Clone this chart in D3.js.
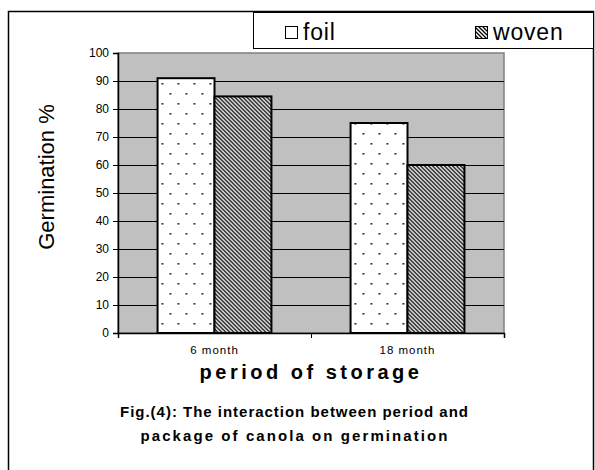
<!DOCTYPE html>
<html>
<head>
<meta charset="utf-8">
<script src="https://cdn.jsdelivr.net/npm/d3@7"></script>
<style>
  html, body { margin: 0; padding: 0; background: #fff; }
  svg { display: block; font-family: "Liberation Sans", Arial, sans-serif; }
</style>
</head>
<body>
<div id="chart"></div>
<script>
// Germination % by storage period and package type

var categories = ['6 month', '18 month'];
var seriesNames = ['foil', 'woven'];
var foilValues = [91, 75];
var wovenValues = [84.5, 60];
var yTicks = [0, 10, 20, 30, 40, 50, 60, 70, 80, 90, 100];

var width = 595, height = 470;
var plot = {left: 118, right: 504, top: 53, bottom: 333};

var svg = d3.select('#chart').append('svg')
    .attr('width', width)
    .attr('height', height);

// Fill patterns
var defs = svg.append('defs');

var dots = defs.append('pattern')
    .attr('id', 'dots')
    .attr('patternUnits', 'userSpaceOnUse')
    .attr('width', 16).attr('height', 20);
dots.append('rect').attr('width', 16).attr('height', 20).attr('fill', '#fff');
dots.append('rect').attr('x', 4).attr('y', 3).attr('width', 1.6).attr('height', 1.6).attr('fill', '#000');
dots.append('rect').attr('x', 12).attr('y', 13).attr('width', 1.6).attr('height', 1.6).attr('fill', '#000');

var hatch = defs.append('pattern')
    .attr('id', 'hatch')
    .attr('patternUnits', 'userSpaceOnUse')
    .attr('width', 4).attr('height', 4);
hatch.append('rect').attr('width', 4).attr('height', 4).attr('fill', '#fff');
hatch.append('path')
    .attr('d', 'M-1,-1 L5,5 M-1,3 L1,5 M3,-1 L5,1')
    .attr('stroke', '#000')
    .attr('stroke-width', 1.3);

var fills = {foil: 'url(#dots)', woven: 'url(#hatch)'};

// Outer frame (bottom edge falls outside the picture)
svg.append('path')
    .attr('d', 'M8.5,480 L8.5,11.5 L593.5,11.5 L593.5,480')
    .attr('fill', 'none')
    .attr('stroke', '#000')
    .attr('stroke-width', 1.5);

// Scales
var x0 = d3.scaleBand()
    .domain(categories)
    .range([plot.left, plot.right])
    .paddingInner(0)
    .paddingOuter(0);

var x1 = d3.scaleBand()
    .domain(seriesNames)
    .range([0, x0.bandwidth() * 0.59]);

var y = d3.scaleLinear()
    .domain([0, 100])
    .range([plot.bottom, plot.top]);

// Plot background
svg.append('rect')
    .attr('x', plot.left)
    .attr('y', plot.top)
    .attr('width', plot.right - plot.left)
    .attr('height', plot.bottom - plot.top)
    .attr('fill', '#c0c0c0')
    .attr('stroke', '#808080')
    .attr('stroke-width', 1.5);

// Gridlines
svg.append('g')
    .selectAll('line')
    .data(yTicks.filter(function(d) { return d > 0 && d < 100; }))
    .enter().append('line')
    .attr('x1', plot.left)
    .attr('x2', plot.right)
    .attr('y1', function(d) { return Math.round(y(d)) + 0.5; })
    .attr('y2', function(d) { return Math.round(y(d)) + 0.5; })
    .attr('stroke', '#000')
    .attr('stroke-width', 1);

// Bars
var groupOffset = (x0.bandwidth() - x1.range()[1]) / 2;
var rows = categories.map(function(c, i) {
    return {category: c, values: [
        {name: 'foil', value: foilValues[i]},
        {name: 'woven', value: wovenValues[i]}
    ]};
});

svg.append('g')
    .selectAll('g')
    .data(rows)
    .enter().append('g')
    .attr('transform', function(d) { return 'translate(' + (x0(d.category) + groupOffset) + ',0)'; })
    .selectAll('rect')
    .data(function(d) { return d.values; })
    .enter().append('rect')
    .attr('x', function(d) { return x1(d.name); })
    .attr('y', function(d) { return y(d.value); })
    .attr('width', x1.bandwidth())
    .attr('height', function(d) { return y(0) - y(d.value); })
    .attr('fill', function(d) { return fills[d.name]; })
    .attr('stroke', '#000')
    .attr('stroke-width', 2);

// Y axis
var yAxis = svg.append('g')
    .attr('transform', 'translate(' + plot.left + ',0)')
    .call(d3.axisLeft(y).tickValues(yTicks).tickSize(5).tickPadding(4));
yAxis.select('.domain').attr('stroke', '#000').attr('stroke-width', 1.5);
yAxis.selectAll('text').attr('font-size', 12).attr('fill', '#000')
    .attr('font-family', '"Liberation Sans", Arial, sans-serif');

// X axis (ticks at category boundaries)
var xAxis = svg.append('g')
    .attr('transform', 'translate(0,' + plot.bottom + ')')
    .call(d3.axisBottom(d3.scaleLinear().domain([0, 2]).range([plot.left, plot.right]))
        .tickValues([0, 1, 2]).tickSize(5).tickFormat(''));
xAxis.select('.domain').attr('stroke', '#000').attr('stroke-width', 1.5);

// Category labels
svg.append('g')
    .selectAll('text')
    .data(categories)
    .enter().append('text')
    .attr('x', function(d) { return x0(d) + x0.bandwidth() / 2; })
    .attr('y', 354)
    .attr('text-anchor', 'middle')
    .attr('font-size', 11.5)
    .attr('letter-spacing', 1)
    .text(function(d) { return d; });

// Axis titles
svg.append('text')
    .attr('x', (plot.left + plot.right) / 2)
    .attr('y', 379)
    .attr('text-anchor', 'middle')
    .attr('font-size', 20)
    .attr('font-weight', 'bold')
    .attr('letter-spacing', 3.5)
    .text('period of storage');

svg.append('text')
    .attr('transform', 'translate(54,' + ((plot.top + plot.bottom) / 2 - 16) + ') rotate(-90)')
    .attr('text-anchor', 'middle')
    .attr('font-size', 22)
    .text('Germination %');

// Legend
var legend = svg.append('g');
legend.append('rect')
    .attr('x', 253.5).attr('y', 12.5)
    .attr('width', 340).attr('height', 36)
    .attr('fill', '#fff')
    .attr('stroke', '#000')
    .attr('stroke-width', 1);

var legendX = [285, 475];
seriesNames.forEach(function(name, i) {
    legend.append('rect')
        .attr('x', legendX[i] + 0.5).attr('y', 26.5)
        .attr('width', 12).attr('height', 12)
        .attr('fill', fills[name])
        .attr('stroke', '#000')
        .attr('stroke-width', 1);
    legend.append('text')
        .attr('x', legendX[i] + 18)
        .attr('y', 40)
        .attr('font-size', 23)
        .attr('letter-spacing', 0.8)
        .text(name);
});

// Caption
var caption = [
    'Fig.(4): The interaction between period and',
    'package of canola on germination'
];
var captionWidths = [348, 307];
svg.append('g')
    .selectAll('text')
    .data(caption)
    .enter().append('text')
    .attr('x', function(d, i) { return 294 - captionWidths[i] / 2; })
    .attr('y', function(d, i) { return 417 + i * 24; })
    .attr('font-size', 15)
    .attr('font-weight', 'bold')
    .attr('textLength', function(d, i) { return captionWidths[i]; })
    .attr('lengthAdjust', 'spacing')
    .text(function(d) { return d; });
</script>
</body>
</html>
